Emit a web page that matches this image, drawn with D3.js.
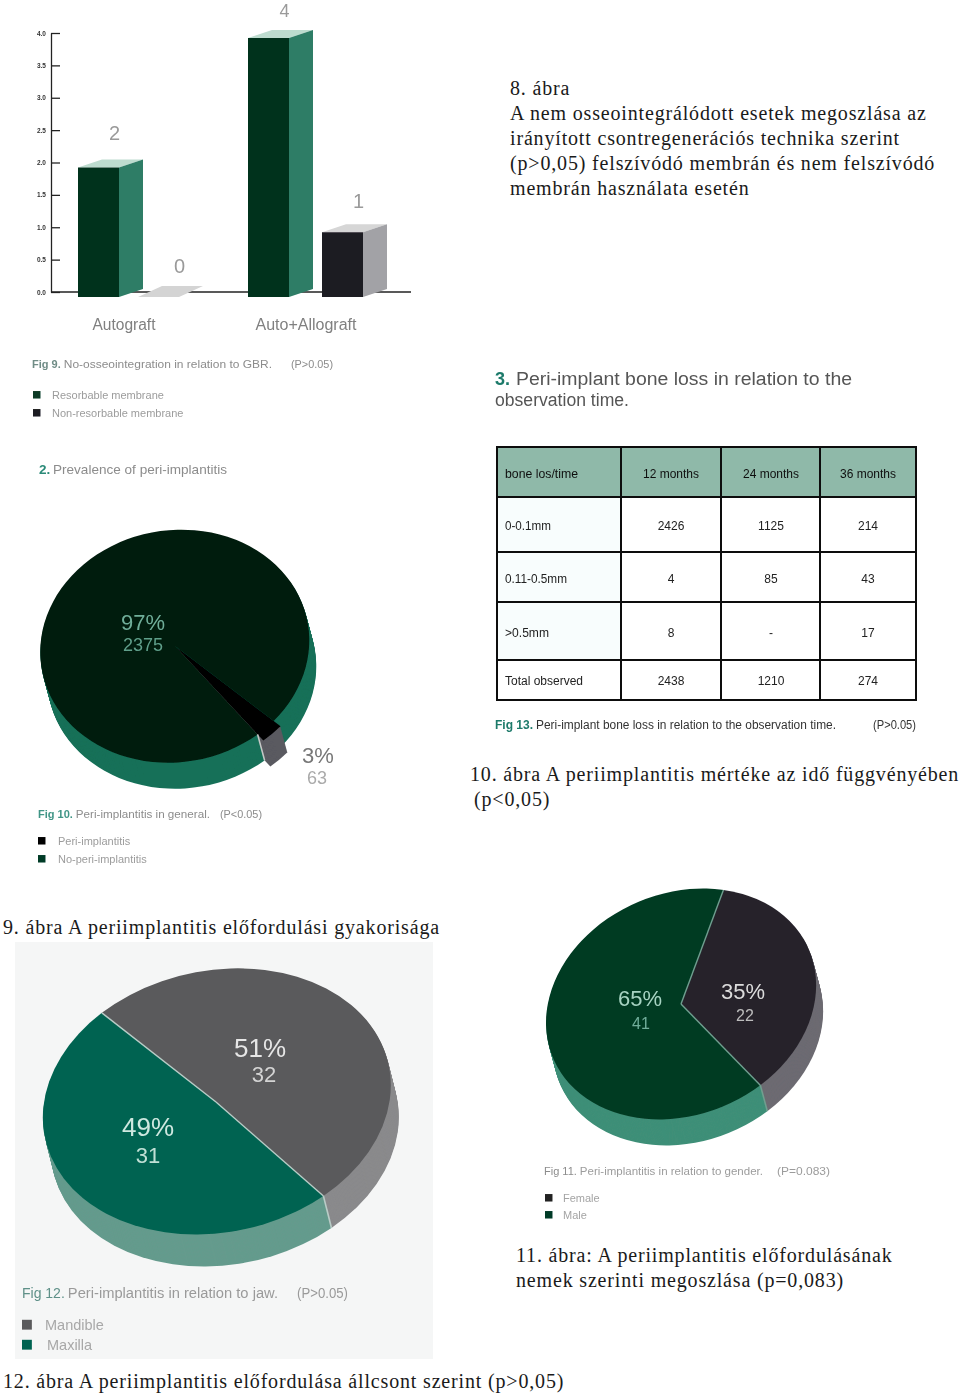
<!DOCTYPE html>
<html>
<head>
<meta charset="utf-8">
<script src="https://cdn.jsdelivr.net/npm/d3@7"></script>
<style>
  body { margin: 0; background: #fff; }
  svg { display: block; }
  text { font-family: "Liberation Sans", sans-serif; }
  .cap { font-family: "Liberation Serif", serif; font-size: 20px; letter-spacing: 0.83px; fill: #1a1a1a; }
</style>
</head>
<body>
<svg width="960" height="1396"></svg>
<script>
// Fig 9 bars
const barGroups = ['Autograft', 'Auto+Allograft']
const barSeries = ['Resorbable membrane', 'Non-resorbable membrane']
const barValues = [[2, 0], [4, 1]]
const axisTicks = [0, 0.5, 1, 1.5, 2, 2.5, 3, 3.5, 4]

// Fig 10, 11, 12 pies
const prevalenceNames = ['Peri-implantitis', 'No-peri-implantitis']
const prevalenceValues = [63, 2375]
const prevalencePct = ['3%', '97%']
const genderNames = ['Female', 'Male']
const genderValues = [22, 41]
const genderPct = ['35%', '65%']
const jawNames = ['Mandible', 'Maxilla']
const jawValues = [32, 31]
const jawPct = ['51%', '49%']

// Fig 13 table
const tableColumns = ['bone los/time', '12 months', '24 months', '36 months']
const tableRows = ['0-0.1mm', '0.11-0.5mm', '>0.5mm', 'Total observed']
const tableCells = [
  ['2426', '1125', '214'],
  ['4', '85', '43'],
  ['8', '-', '17'],
  ['2438', '1210', '274']
]

// captions of the page
const pageCaptions = [
  ['8. ábra', 510, 95],
  ['A nem osseointegrálódott esetek megoszlása az', 510, 120],
  ['irányított csontregenerációs technika szerint', 510, 145],
  ['(p>0,05) felszívódó membrán és nem felszívódó', 510, 170],
  ['membrán használata esetén', 510, 195],
  ['10. ábra A periimplantitis mértéke az idő függvényében', 470, 781],
  ['(p<0,05)', 474, 806],
  ['9. ábra A periimplantitis előfordulási gyakorisága', 3, 934],
  ['11. ábra: A periimplantitis előfordulásának', 516, 1262],
  ['nemek szerinti megoszlása (p=0,083)', 516, 1287],
  ['12. ábra A periimplantitis előfordulása állcsont szerint (p>0,05)', 3, 1388]
]

const svg = d3.select('svg')

const defs = svg.append('defs')
defs.append('filter').attr('id', 'scan').append('feGaussianBlur').attr('stdDeviation', 0.55)
defs.append('filter').attr('id', 'scan2').append('feGaussianBlur').attr('stdDeviation', 0.45)

svg.append('g').selectAll('text')
  .data(pageCaptions)
  .join('text')
  .attr('class', 'cap')
  .attr('x', d => d[1])
  .attr('y', d => d[2])
  .text(d => d[0])

const figures = svg.append('g').attr('filter', 'url(#scan)')
const fineText = svg.append('g').attr('filter', 'url(#scan2)')

const label = (txt, x, y, size, fill, opts = {}) => {
  const t = (opts.g || figures).append('text')
    .attr('x', x)
    .attr('y', y)
    .attr('font-size', size)
    .attr('fill', fill)
    .attr('text-anchor', opts.anchor || 'start')
    .text(txt)
  if (opts.width) t.attr('textLength', opts.width).attr('lengthAdjust', 'spacingAndGlyphs')
  if (opts.weight) t.attr('font-weight', opts.weight)
  return t
}

//BAR CHART
const yAxisScale = d3.scaleLinear().domain([0, 4]).range([292, 33])
const yFront = d3.scaleLinear().domain([0, 4]).range([297, 38])
const xGroup = d3.scaleBand().domain(barGroups).range([78, 418])
const xInner = {
  Autograft: d3.scaleBand().domain(barSeries).range([0, 120]),
  'Auto+Allograft': d3.scaleBand().domain(barSeries).range([0, 148])
}
const barWidth = 41
const barDx = 24
const barDy = 8

const barPalette = d3.scaleOrdinal(barSeries, [
  { front: '#05331f', side: '#2f7d66', top: '#bddccf' },
  { front: '#1b1a20', side: '#a2a2a6', top: '#d6d6d6' }
])

const yAxis = d3.axisLeft(yAxisScale)
  .tickValues(axisTicks)
  .tickFormat(d3.format('.1f'))
  .tickSize(-9)
  .tickSizeOuter(0)
  .tickPadding(5)

const axisG = figures.append('g')
  .attr('transform', 'translate(51,0)')
  .call(yAxis)
axisG.selectAll('path,line').attr('stroke', '#222').attr('stroke-width', 1.3)
axisG.selectAll('text')
  .attr('font-size', 6.5)
  .attr('font-weight', 'bold')
  .attr('font-family', '"Liberation Sans", sans-serif')
  .attr('fill', '#333')

figures.append('line')
  .attr('x1', 51).attr('x2', 411)
  .attr('y1', yAxisScale(0)).attr('y2', yAxisScale(0))
  .attr('stroke', '#222').attr('stroke-width', 1.3)

barGroups.forEach((group, i) => {
  barSeries.forEach((series, j) => {
    const v = barValues[i][j]
    const x = xGroup(group) + xInner[group](series)
    const y = yFront(v)
    const base = yFront(0)
    const pal = barPalette(series)
    const zero = v === 0
    const dy = zero ? 11 : barDy
    const bar = figures.append('g')
    bar.append('polygon')
      .attr('points', [[x, y], [x + barWidth, y], [x + barWidth + barDx, y - dy], [x + barDx, y - dy]].join(' '))
      .attr('fill', zero ? '#d4d4d4' : pal.top)
    if (!zero) {
      bar.append('polygon')
        .attr('points', [[x + barWidth, y], [x + barWidth + barDx, y - dy], [x + barWidth + barDx, base - dy], [x + barWidth, base]].join(' '))
        .attr('fill', pal.side)
      bar.append('rect')
        .attr('x', x).attr('y', y)
        .attr('width', barWidth).attr('height', base - y)
        .attr('fill', pal.front)
    }
    // the tallest bar's number sits right at the page top
    const wantY = y - (v < 2 ? 24 : 28)
    const labelY = Math.max(wantY, 16.5)
    label(v, x + barWidth / 2 + (zero ? 21 : 16), labelY, wantY < 16.5 ? 18 : 20, '#9a9a9a', { anchor: 'middle' })
  })
})

label(barGroups[0], 124, 330, 16, '#808080', { anchor: 'middle', width: 63 })
label(barGroups[1], 306, 330, 16, '#808080', { anchor: 'middle', width: 101 })

const legend = (x, ys, names, colors, textX, size, fill) => {
  names.forEach((name, i) => {
    figures.append('rect')
      .attr('x', x).attr('y', ys[i] - size * 0.36)
      .attr('width', size * 0.68).attr('height', size * 0.68)
      .attr('fill', colors[i])
    label(name, textX[i] === undefined ? textX[0] : textX[i], ys[i] + size * 0.36, size, fill)
  })
}

const figCaption = (fig, rest, p, x, y, size, restWidth, pX, pWidth, figFill, fill, figWeight = 'bold') => {
  const t = label(fig, x, y, size, figFill, { g: fineText, weight: figWeight })
  const w = t.node().getComputedTextLength()
  label(rest, x + w + 3, y, size, fill, { g: fineText, width: restWidth - w - 3 })
  label(p, pX, y, size, fill, { g: fineText, width: pWidth })
}

figCaption('Fig 9.', 'No-osseointegration in relation to GBR.', '(P>0.05)', 32, 368, 11, 240, 291, 42, '#6f8c86', '#8c8c8c')
legend(33, [395, 413], barSeries, ['#0a3a25', '#1c1c20'], [52], 11, '#9c9c9c')

//PIES
const pieLayer = (g, { cx, cy, a, b, tilt, dx, dy, start, values, tops, sides, rule, seam, grow = 1 }) => {
  const pie = d3.pie().sort(null).startAngle(start * Math.PI / 180).endAngle((start + 360) * Math.PI / 180)
  const arcs = pie(values)
  // grow lets the first slice stick out past the rim
  const arc = d3.arc().innerRadius(0).outerRadius(d => d.index === 0 ? grow : 1)
  const place = t => `translate(${cx + dx * t},${cy + dy * t}) rotate(${tilt}) scale(${a},${b})`

  // side wall: same slices stacked from the bottom up
  d3.range(Math.ceil(dy), 0, -1).forEach(k => {
    g.append('g')
      .attr('transform', place(k / Math.ceil(dy)))
      .selectAll('path')
      .data(arcs)
      .join('path')
      .attr('d', arc)
      .attr('fill', (d, i) => sides[i])
  })

  g.append('g')
    .attr('transform', place(0))
    .selectAll('path')
    .data(arcs)
    .join('path')
    .attr('d', arc)
    .attr('fill', (d, i) => tops[i])

  if (rule) {
    const spoke = d3.lineRadial()
    const top = g.append('g').attr('transform', place(0))
    arcs.forEach(d => {
      top.append('path')
        .attr('d', spoke([[d.startAngle, 0], [d.startAngle, 1]]))
        .attr('fill', 'none')
        .attr('stroke', rule)
        .attr('stroke-width', 1.4)
        .attr('vector-effect', 'non-scaling-stroke')
    })
  }
  // seam on the wall, below the front spoke
  const front = arcs[arcs.length - 1].startAngle
  const edge = d3.pointRadial(front, 1)
  const rad = tilt * Math.PI / 180
  const ex = cx + a * edge[0] * Math.cos(rad) - b * edge[1] * Math.sin(rad)
  const ey = cy + a * edge[0] * Math.sin(rad) + b * edge[1] * Math.cos(rad)
  g.append('line')
    .attr('x1', ex).attr('y1', ey)
    .attr('x2', ex + dx).attr('y2', ey + dy)
    .attr('stroke', seam || rule)
    .attr('stroke-width', 1.6)
}

// Fig 10
label('2.', 39, 474, 13.5, '#2a8a78', { g: fineText, weight: 'bold' })
label('Prevalence of peri-implantitis', 53, 474, 13.5, '#8c8c8c', { g: fineText, width: 174 })
pieLayer(figures, {
  cx: 175, cy: 646, a: 135, b: 116, tilt: -9.5, dx: 7, dy: 26, start: 141,
  values: prevalenceValues,
  tops: ['#000000', '#021c0e'],
  sides: ['#5a5a60', '#167059'],
  rule: null,
  seam: '#c4c8c6',
  grow: 1.07
})
label(prevalencePct[1], 143, 630, 22, '#6fae99', { anchor: 'middle' })
label(prevalenceValues[1], 143, 651, 18, '#5f9f8a', { anchor: 'middle' })
label(prevalencePct[0], 318, 763, 22, '#777', { anchor: 'middle' })
label(prevalenceValues[0], 317, 784, 18, '#aaa', { anchor: 'middle' })
figCaption('Fig 10.', 'Peri-implantitis in general.', '(P<0.05)', 38, 818, 11, 172, 220, 42, '#3f9586', '#8c8c8c')
legend(38, [841, 859], prevalenceNames, ['#000', '#043a28'], [58], 11, '#9c9c9c')

// Fig 11
pieLayer(figures, {
  cx: 681, cy: 1004, a: 139, b: 110.7, tilt: -23, dx: 7, dy: 26, start: 37,
  values: genderValues,
  tops: ['#27232b', '#043a24'],
  sides: ['#6d6b72', '#3f8f78'],
  rule: '#6f9f8f'
})
label(genderPct[1], 640, 1006, 22, '#a6d4c2', { anchor: 'middle' })
label(genderValues[1], 641, 1029, 16, '#6fae99', { anchor: 'middle' })
label(genderPct[0], 743, 999, 22, '#dcdcdc', { anchor: 'middle' })
label(genderValues[0], 745, 1021, 16, '#bdbdbd', { anchor: 'middle' })
figCaption('Fig 11.', 'Peri-implantitis in relation to gender.', '(P=0.083)', 544, 1175, 11, 219, 777, 53, '#8c8c8c', '#9c9c9c', 'normal')
legend(545, [1198, 1215], genderNames, ['#222', '#043a28'], [563], 11, '#a4a4a4')

// Fig 12
figures.append('rect')
  .attr('x', 15).attr('y', 942)
  .attr('width', 418).attr('height', 417)
  .attr('fill', '#f5f6f6')
pieLayer(figures, {
  cx: 216, cy: 1102, a: 175.7, b: 130.8, tilt: -12, dx: 8, dy: 32, start: -32,
  values: jawValues,
  tops: ['#5a5a5c', '#006451'],
  sides: ['#8a8a8c', '#659b8d'],
  rule: '#b9ccc7'
})
label(jawPct[0], 260, 1057, 26, '#e6e6e6', { anchor: 'middle' })
label(jawValues[0], 264, 1082, 22, '#d4d4d4', { anchor: 'middle' })
label(jawPct[1], 148, 1136, 26, '#cfe8e0', { anchor: 'middle' })
label(jawValues[1], 148, 1163, 22, '#c0e0d6', { anchor: 'middle' })
figCaption('Fig 12.', 'Peri-implantitis in relation to jaw.', '(P>0.05)', 22, 1298, 14, 256, 297, 51, '#5f9088', '#9a9a9a', 'normal')
legend(22, [1325, 1345], jawNames, ['#5a5a5c', '#006451'], [45, 47], 14.5, '#a8a8a8')

//TABLE
const colEdges = [497, 621, 721, 820, 916]
const rowEdges = [447, 497, 552, 602, 660, 700]
const colCenters = [671, 771, 868]
const rowBaselines = [478, 530, 583, 637, 685]
const table = figures.append('g')
table.append('rect')
  .attr('x', colEdges[0]).attr('y', rowEdges[0])
  .attr('width', colEdges[4] - colEdges[0]).attr('height', rowEdges[1] - rowEdges[0])
  .attr('fill', '#8fb9a9')
table.append('rect')
  .attr('x', colEdges[0]).attr('y', rowEdges[1])
  .attr('width', colEdges[1] - colEdges[0]).attr('height', rowEdges[4] - rowEdges[1])
  .attr('fill', '#f8fdfd')
table.selectAll('.v').data(colEdges).join('line').attr('class', 'v')
  .attr('x1', d => d).attr('x2', d => d)
  .attr('y1', rowEdges[0]).attr('y2', rowEdges[5])
  .attr('stroke', '#111').attr('stroke-width', 2)
table.selectAll('.h').data(rowEdges).join('line').attr('class', 'h')
  .attr('x1', colEdges[0] - 1).attr('x2', colEdges[4] + 1)
  .attr('y1', d => d).attr('y2', d => d)
  .attr('stroke', '#111').attr('stroke-width', 2)

label(tableColumns[0], 505, rowBaselines[0], 12.5, '#111', { g: fineText, width: 73 })
tableColumns.slice(1).forEach((c, i) => label(c, colCenters[i], rowBaselines[0], 12.5, '#111', { g: fineText, anchor: 'middle', width: 56 }))
tableRows.forEach((r, i) => {
  label(r, 505, rowBaselines[i + 1], 12, '#222', { g: fineText, width: [46, 62, 44, 78][i] })
  tableCells[i].forEach((c, j) => label(c, colCenters[j], rowBaselines[i + 1], 12, '#222', { g: fineText, anchor: 'middle' }))
})

label('3.', 495, 385, 18, '#1d7a6a', { g: fineText, weight: 'bold' })
label('Peri-implant bone loss in relation to the', 516, 385, 18, '#555', { g: fineText, width: 336 })
label('observation time.', 495, 406, 18, '#555', { g: fineText, width: 134 })
figCaption('Fig 13.', 'Peri-implant bone loss in relation to the observation time.', '(P>0.05)', 495, 729, 12, 341, 873, 43, '#1d7a6a', '#333')
</script>
</body>
</html>
